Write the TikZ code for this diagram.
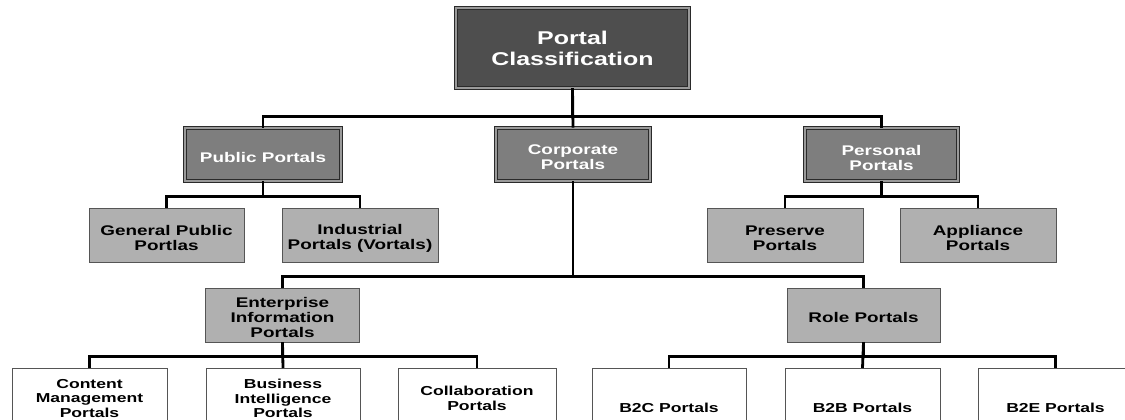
\documentclass[tikz,border=0pt]{standalone}
\usepackage{fontspec}
\newfontfamily\dfont[FakeStretch=1.35]{Liberation Sans}
\definecolor{rootfill}{HTML}{4E4E4E}
\definecolor{midfill}{HTML}{7E7E7E}
\definecolor{lightfill}{HTML}{B0B0B0}
\definecolor{edge}{HTML}{2A2A2A}
\definecolor{gapgray}{HTML}{9A9A9A}
\begin{document}
\begin{tikzpicture}[x=1pt,y=-1pt,
  dbl/.style={draw=edge, line width=0.9pt, double=gapgray, double distance=1.3pt, align=center, inner sep=0pt, text=white},
  rootbox/.style={dbl, fill=rootfill, minimum width=233pt, minimum height=80pt, font={\dfont\bfseries\fontsize{18.5}{21}\selectfont}},
  midbox/.style={dbl, fill=midfill, minimum width=155pt, minimum height=53pt},
  midtext/.style={align=center, inner sep=0pt, text=white, yshift=-3pt, font={\dfont\bfseries\fontsize{14}{15}\selectfont}},
  lightbox/.style={draw=edge!80, line width=0.9pt, fill=lightfill, minimum width=155pt, minimum height=54pt, inner sep=0pt},
  lighttext/.style={align=center, inner sep=0pt, text=black, yshift=-3pt, font={\dfont\bfseries\fontsize{14}{15}\selectfont}},
  leafbox/.style={draw=edge!80, line width=0.9pt, fill=white, minimum width=156pt, anchor=north, align=center, inner sep=0pt, font={\dfont\bfseries\fontsize{13}{14.5}\selectfont}},
  conn/.style={draw=black, line width=2.8pt}
]
\useasboundingbox (0,0) rectangle (1125,420);
\clip (0,0) rectangle (1125,420);
\fill[white] (0,0) rectangle (1125,420);

% level 0
\node[rootbox] (root) at (572.5,48) {Portal\\Classification};
% level 1
\node[midbox, minimum width=156pt, label={[midtext]center:{Public Portals}}] (public) at (263,154.5) {};
\node[midbox, minimum width=154pt, label={[midtext]center:{Corporate\\Portals}}] (corp) at (573,154.5) {};
\node[midbox, minimum width=153pt, label={[midtext]center:{Personal\\Portals}}] (personal) at (881.5,154.5) {};
% level 2
\node[lightbox, label={[lighttext]center:{General Public\\Portlas}}] (general) at (166.5,235) {};
\node[lightbox, minimum width=156pt, label={[lighttext]center:{Industrial\\Portals (Vortals)}}] (industrial) at (360,235) {};
\node[lightbox, minimum width=156pt, label={[lighttext]center:{Preserve\\Portals}}] (preserve) at (785,235) {};
\node[lightbox, minimum width=156pt, label={[lighttext]center:{Appliance\\Portals}}] (appliance) at (978,235) {};
\node[lightbox, minimum width=154pt, label={[lighttext, yshift=0.5pt]center:{Enterprise\\Information\\Portals}}] (eip) at (282.5,315) {};
\node[lightbox, minimum width=153pt, label={[lighttext, yshift=1pt]center:{Role Portals}}] (role) at (863.5,315) {};
% leaves
\node[leafbox, minimum width=155pt, minimum height=60pt] (cm) at (89.5,368) {Content\\Management\\Portals};
\node[leafbox, minimum width=154pt, minimum height=60pt] (bi) at (283,368) {Business\\Intelligence\\Portals};
\node[leafbox, minimum width=158pt, minimum height=60pt] (collab) at (477,368) {Collaboration\\Portals};
\node[leafbox, minimum width=154pt, minimum height=79pt] (b2c) at (669,368) {B2C Portals};
\node[leafbox, minimum width=155pt, minimum height=79pt] (b2b) at (862.5,368) {B2B Portals};
\node[leafbox, minimum width=155pt, minimum height=79pt] (b2e) at (1055.5,368) {B2E Portals};

% connectors
\draw[conn] (root.south) -- ++(0,28) coordinate (b0) -| (public.north);
\draw[conn] (b0) -| (personal.north);
\draw[conn] (root.south) -- (corp.north);

\draw[conn] (public.south) -- ++(0,15) coordinate (b1) -| (general.north);
\draw[conn] (b1) -| (industrial.north);

\draw[conn] (personal.south) -- ++(0,15) coordinate (b2) -| (preserve.north);
\draw[conn] (b2) -| (appliance.north);

\draw[conn] (corp.south) -- ++(0,95) coordinate (b3) -| (eip.north);
\draw[conn] (b3) -| (role.north);

\draw[conn] (eip.south) -- ++(0,14) coordinate (b4) -| (cm.north);
\draw[conn] (b4) -| (collab.north);
\draw[conn] (eip.south) -- (bi.north);

\draw[conn] (role.south) -- ++(0,14) coordinate (b5) -| (b2c.north);
\draw[conn] (b5) -| (b2e.north);
\draw[conn] (role.south) -- (b2b.north);
\end{tikzpicture}
\end{document}
